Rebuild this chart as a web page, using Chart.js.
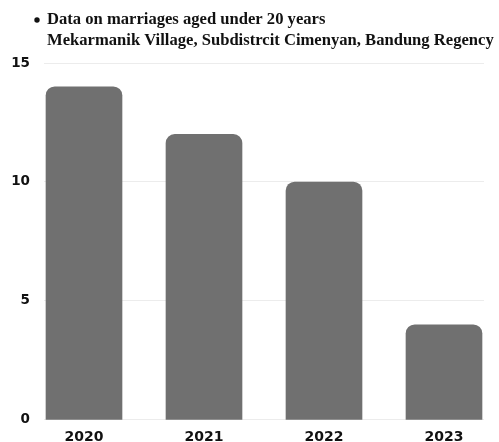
<!DOCTYPE html>
<html>
<head>
<meta charset="utf-8">
<script src="https://cdn.jsdelivr.net/npm/chart.js@4/dist/chart.umd.min.js"></script>
<style>
	body { margin:0; background:#fff; }
	#wrap { position:relative; width:499px; height:442px; }
</style>
</head>
<body>
<div id="wrap"><canvas id="c"></canvas></div>
<script>
// data
const years = ['2020', '2021', '2022', '2023']
const marriages = [14, 12, 10, 4]
const yTicks = [0, 5, 10, 15]
const titleLines = ['Data on marriages aged under 20 years', 'Mekarmanik Village, Subdistrcit Cimenyan, Bandung Regency']

// heading with a bullet, drawn above the plot
const heading = {
	id: 'heading',
	afterDraw: c => {
		const x = c.ctx
		x.save()
		x.fillStyle = '#111'
		x.beginPath()
		x.arc(37, 20, 2.7, 0, Math.PI * 2)
		x.fill()
		x.font = 'bold 16.6px "Liberation Serif"'
		x.textBaseline = 'middle'
		x.fillText(titleLines[0], 47, 20)
		x.fillText(titleLines[1], 47, 41)
		x.restore()
	}
}

addEventListener('load', () => {
	new Chart(document.getElementById('c'), {
		type: 'bar',
		data: {
			datasets: [{
				data: marriages.map((v, i) => ({x: i, y: v})),
				backgroundColor: '#707070',
				borderRadius: 9,
				barThickness: 76,
			}]
		},
		options: {
			responsive: true,
			maintainAspectRatio: false,
			animation: false,
			layout: { padding: { top: 63, right: 15, left: 0, bottom: 0 } },
			plugins: { legend: { display: false }, tooltip: { enabled: false } },
			scales: {
				x: {
					type: 'linear',
					offset: false,
					min: -1 / 3,
					max: 10 / 3,
					grid: { display: false, drawTicks: false },
					border: { display: false },
					afterBuildTicks: s => { s.ticks = years.map((_, i) => ({value: i})) },
					afterFit: s => { s.height = 22 },
					ticks: {
						padding: 9,
						color: '#111',
						font: { family: 'DejaVu Sans', weight: 'bold', size: 14 },
						callback: v => years[v],
						maxRotation: 0,
					}
				},
				y: {
					min: 0,
					max: 15,
					afterBuildTicks: s => { s.ticks = yTicks.map(v => ({value: v})) },
					afterFit: s => { s.width = 44 },
					grid: { color: '#ececec', drawTicks: false },
					border: { display: false },
					ticks: {
						padding: 14,
						color: '#111',
						font: { family: 'DejaVu Sans', weight: 'bold', size: 13.5 },
					}
				}
			}
		},
		plugins: [heading]
	})
})
</script>
</body>
</html>
